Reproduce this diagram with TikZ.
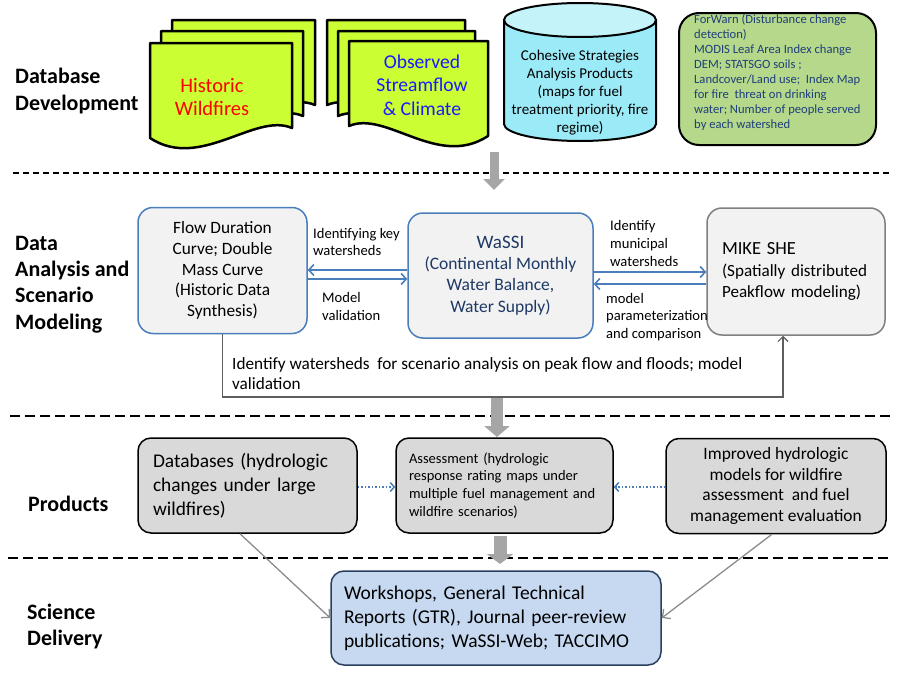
\documentclass[tikz,border=0pt]{standalone}
\usepackage{fontspec}
\setmainfont{Carlito}
\usetikzlibrary{arrows.meta,calc}
\definecolor{docgreen}{HTML}{CCFF33}
\definecolor{cylbody}{HTML}{9BEAF7}
\definecolor{cyltop}{HTML}{C4F3FA}
\definecolor{greenfill}{HTML}{B5D88B}
\definecolor{gtext}{HTML}{1F3F7A}
\definecolor{boxblue}{HTML}{4A7EBB}
\definecolor{boxfill}{HTML}{F2F2F2}
\definecolor{wassitext}{HTML}{1F3864}
\definecolor{mikeborder}{HTML}{7F7F7F}
\definecolor{prodfill}{HTML}{D9D9D9}
\definecolor{delfill}{HTML}{C6D9F1}
\definecolor{delborder}{HTML}{2A3F5F}
\definecolor{grayarrow}{HTML}{A6A6A6}
\definecolor{connector}{HTML}{5E5E5E}
\definecolor{diagline}{HTML}{8C8C8C}
\definecolor{wildred}{HTML}{FF0000}
\definecolor{obsblue}{HTML}{1A1AFF}
\begin{document}
\frenchspacing
\begin{tikzpicture}[x=1pt,y=-1pt,
  sheet/.style={fill=docgreen,draw=black,line width=2.5pt,line join=round},
  seclabel/.style={anchor=west,align=left,inner sep=0pt,font=\bfseries\fontsize{22}{26.3}\selectfont},
  bluebox/.style={draw=boxblue,line width=1.5pt,fill=boxfill,rounded corners=15pt},
  graybox/.style={draw=mikeborder,line width=1.5pt,fill=boxfill,rounded corners=15pt},
  prodbox/.style={draw=black,line width=1.5pt,fill=prodfill,rounded corners=13pt,minimum height=95pt},
  delbox/.style={draw=delborder,line width=1.5pt,fill=delfill,rounded corners=13pt},
  arrlabel/.style={anchor=west,align=left,inner sep=0pt,font=\fontsize{14.6}{17.6}\selectfont},
  bluearr/.style={draw=boxblue,line width=1.6pt,-{Straight Barb[length=5pt,width=11pt]}},
  dotarr/.style={draw=boxblue,line width=1.5pt,dotted,-{Straight Barb[length=4pt,width=9pt]}},
  conn/.style={draw=connector,line width=1.2pt},
  diag/.style={draw=diagline,line width=1.3pt,-{Straight Barb[length=6pt,width=12pt]}},
  blockarr/.style={draw=grayarrow},
  dashline/.style={draw=black,line width=2pt}
]
\useasboundingbox (0,0) rectangle (900,680);
\fill[white] (0,0) rectangle (900,680);

% dashed separators
\draw[dashline,dash pattern=on 6pt off 4pt] (13,173) -- (890,173);
\draw[dashline,dash pattern=on 10pt off 5pt] (10,416) -- (890,416);
\draw[dashline,dash pattern=on 10pt off 5pt] (8,558) -- (890,558);

% section labels
\node[seclabel] (l1) at (15,91) {Database\\Development};
\node[seclabel] (l2) at (15,284.5) {Data\\Analysis and\\Scenario\\Modeling};
\node[seclabel] (l3) at (28,504) {Products};
\node[seclabel] (l4) at (27,626.5) {Science\\Delivery};

% document stack 1
\foreach \px/\py/\w in {172/20/143,161/31/142,150/43/142}{
  \begin{scope}[shift={(\px,\py)}]
    \draw[sheet] (0,0) -- (\w,0) -- (\w,85) .. controls ({\w-37},69) and (50,128) .. (0,95) -- cycle;
  \end{scope}
}
\node[align=center,inner sep=0pt,text=wildred,font=\fontsize{20.5}{23}\selectfont] (hw) at (212,97) {Historic\\Wildfires};

% document stack 2 (mirrored)
\foreach \px/\py/\w in {465/20/138,475/31/137,488/41/139}{
  \begin{scope}[shift={(\px,\py)},xscale=-1]
    \draw[sheet] (0,0) -- (\w,0) -- (\w,85) .. controls ({\w-37},69) and (50,128) .. (0,95) -- cycle;
  \end{scope}
}
\node[align=center,inner sep=0pt,text=obsblue,font=\fontsize{19.6}{23.5}\selectfont] (osc) at (422,85) {Observed\\Streamflow\\\& Climate};

% cylinder
\fill[cylbody] (504,20) rectangle (656,124);
\fill[cylbody] (580,124) ellipse[x radius=76,y radius=17];
\draw[line width=2pt] (504,20) -- (504,124) arc[start angle=180,end angle=0,x radius=76,y radius=17] -- (656,20);
\draw[line width=2pt,fill=cyltop] (580,20) ellipse[x radius=76,y radius=17];
\node[align=center,inner sep=0pt,font=\fontsize{15}{18}\selectfont] (csa) at (580,93) {Cohesive Strategies\\Analysis Products\\(maps for fuel\\treatment priority, fire\\regime)};

% green box
\node[draw=black,line width=2pt,fill=greenfill,rounded corners=20pt,minimum width=197pt,minimum height=132pt] (gb) at (777.5,79) {};
\node[anchor=west,align=left,inner sep=0pt,text=gtext,font=\fontsize{12.6}{15}\selectfont] (gbt) at (694,72.5) {ForWarn (Disturbance change\\detection)\\MODIS Leaf Area Index change\\DEM; STATSGO soils ;\\Landcover/Land use;\ \ Index Map\\for fire\ \ threat on drinking\\water; Number of people served\\by each watershed};

% block arrow 1
\coordinate (a1s) at (494,152);
\coordinate (a1e) at (494,190);
\draw[blockarr,line width=9pt,-{Triangle[length=11pt,width=21pt]}] (a1s) -- (a1e);

% analysis boxes
\node[bluebox,minimum width=169pt,minimum height=126pt,align=center,font=\fontsize{17.3}{20.7}\selectfont] (fdc) at (222.5,270.5) {Flow Duration\\Curve; Double\\Mass Curve\\(Historic Data\\Synthesis)};
\node[bluebox,minimum width=185pt,minimum height=125pt,align=center,text=wassitext,font=\fontsize{17.5}{21.3}\selectfont] (wassi) at (500.5,275.5) {{\fontsize{19}{21.3}\selectfont WaSSI}\\(Continental Monthly\\Water Balance,\\Water Supply)};
\node[graybox,minimum width=178pt,minimum height=127pt,text width=148pt,inner xsep=15pt,align=left,font=\fontsize{17.1}{21.5}\selectfont] (mike) at (796,271.5) {{\fontsize{18.5}{21.5}\selectfont MIKE SHE}\\(Spatially distributed\\Peakflow modeling)};

% arrows between analysis boxes
\draw[bluearr] (wassi.west |- 0,270) -- (fdc.east |- 0,270);
\draw[bluearr] (fdc.east |- 0,279) -- (wassi.west |- 0,279);
\draw[bluearr] (wassi.east |- 0,272) -- (mike.west |- 0,272);
\draw[bluearr] (mike.west |- 0,284) -- (wassi.east |- 0,284);
\node[arrlabel] (t1) at (313,242) {Identifying key\\watersheds};
\node[arrlabel] (t2) at (322,306.5) {Model\\validation};
\node[arrlabel] (t3) at (610,243.5) {Identify\\municipal\\watersheds};
\node[arrlabel] (t4) at (606,317) {model\\parameterization\\and comparison};

% loop connector
\draw[conn,-{Straight Barb[length=5pt,width=10pt]}] (fdc.south) -- (fdc.south |- 0,397) -| ([xshift=-13pt]mike.south);
\node[anchor=west,align=left,inner sep=0pt,font=\fontsize{17.2}{20}\selectfont] (t5) at (232,374) {Identify watersheds\ \ for scenario analysis on peak flow and floods; model\\validation};

% block arrow 2
\coordinate (a2s) at (497,398);
\coordinate (a2e) at (497,437);
\draw[blockarr,line width=12pt,-{Triangle[length=11pt,width=25pt]}] (a2s) -- (a2e);

% products
\node[prodbox,minimum width=219pt,text width=189pt,inner xsep=15pt,align=left,font=\fontsize{19.4}{24}\selectfont] (db) at (247.5,485.5) {Databases (hydrologic\\changes under large\\wildfires)};
\node[prodbox,minimum width=217pt,text width=191pt,inner xsep=13pt,align=left,font=\fontsize{14.5}{17.7}\selectfont] (as) at (504.5,485.5) {Assessment (hydrologic\\response rating maps under\\multiple fuel management and\\wildfire scenarios)};
\node[prodbox,minimum width=220pt,align=center,font=\fontsize{17.4}{20.5}\selectfont] (imp) at (776,486) {Improved hydrologic\\models for wildfire\\assessment\ \ and fuel\\management evaluation};
\draw[dotarr] (db.east |- 0,487) -- (as.west |- 0,487);
\draw[dotarr] (imp.west |- 0,487) -- (as.east |- 0,487);

% block arrow 3
\coordinate (a3s) at (500,536);
\coordinate (a3e) at (500,564);
\draw[blockarr,line width=13pt,-{Triangle[length=10pt,width=26pt]}] (a3s) -- (a3e);

% delivery
\node[delbox,minimum width=330pt,minimum height=94pt,text width=304pt,inner xsep=13pt,align=left,font=\fontsize{19.5}{24}\selectfont] (del) at (496,618) {Workshops, General Technical\\Reports (GTR), Journal peer-review\\publications; WaSSI-Web; TACCIMO};
\draw[diag] ([xshift=-7.5pt]db.south) -- (del.west);
\draw[diag] ([xshift=-4pt]imp.south) -- (del.east);
\end{tikzpicture}
\end{document}
